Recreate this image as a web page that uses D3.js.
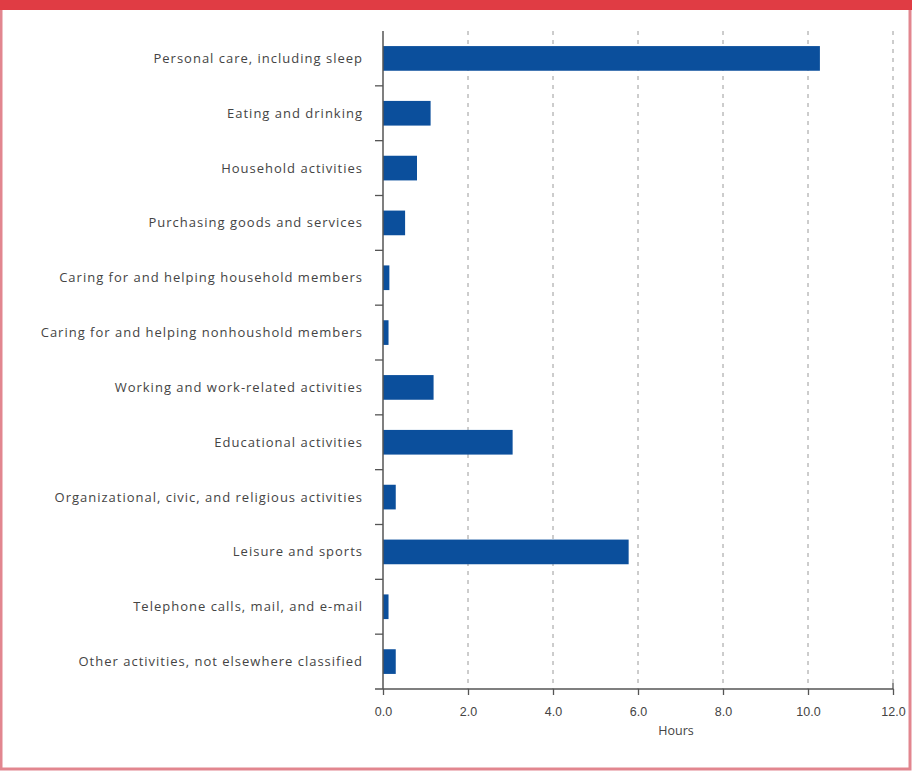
<!DOCTYPE html>
<html>
<head>
<meta charset="utf-8">
<script src="https://cdn.jsdelivr.net/npm/d3@7"></script>
<style>
  body { margin: 0; background: #fff; }
  svg { display: block; font-family: "Open Sans", sans-serif; }
</style>
</head>
<body>
<div class="canva"></div>
<script>
// categories, top to bottom
const categories = [
  "Personal care, including sleep",
  "Eating and drinking",
  "Household activities",
  "Purchasing goods and services",
  "Caring for and helping household members",
  "Caring for and helping nonhoushold members",
  "Working and work-related activities",
  "Educational activities",
  "Organizational, civic, and religious activities",
  "Leisure and sports",
  "Telephone calls, mail, and e-mail",
  "Other activities, not elsewhere classified"
];

// average hours per day
const hours = [10.28, 1.12, 0.8, 0.52, 0.15, 0.13, 1.19, 3.05, 0.3, 5.78, 0.13, 0.3];

const xTicks = [0, 2, 4, 6, 8, 10, 12];

const width = 912, height = 771;
const margin = {top: 31, right: 19, bottom: 82, left: 383};

const svg = d3.select(".canva").append("svg")
    .attr("width", width)
    .attr("height", height);

// frame: red header band + thin border
svg.append("rect")
    .attr("x", 1).attr("y", 1)
    .attr("width", width - 3).attr("height", height - 3)
    .attr("fill", "none")
    .attr("stroke", "#e2868f")
    .attr("stroke-width", 3);
svg.append("rect")
    .attr("x", 0).attr("y", 0)
    .attr("width", width).attr("height", 10)
    .attr("fill", "#e03c44");

const x = d3.scaleLinear()
    .domain([0, 12])
    .range([margin.left, width - margin.right]);

const y = d3.scaleBand()
    .domain(categories)
    .range([margin.top, height - margin.bottom])
    .paddingInner(0.55)
    .paddingOuter(0.275);

const y0 = margin.top, y1 = height - margin.bottom;

// dashed grid lines
svg.append("g")
    .selectAll("line")
    .data(xTicks.slice(1))
    .join("line")
    .attr("x1", d => x(d)).attr("x2", d => x(d))
    .attr("y1", y0).attr("y2", y1)
    .attr("stroke", "#9a9a9a")
    .attr("stroke-width", 1)
    .attr("stroke-dasharray", "4,5");

// bars
svg.append("g")
    .selectAll("rect")
    .data(hours)
    .join("rect")
    .attr("x", x(0))
    .attr("y", (d, i) => y(categories[i]))
    .attr("width", d => x(d) - x(0))
    .attr("height", y.bandwidth())
    .attr("fill", "#0b4f9c");

// x axis
const xAxis = svg.append("g")
    .attr("transform", `translate(0,${y1})`)
    .call(d3.axisBottom(x).tickValues(xTicks).tickFormat(d3.format(".1f")).tickSize(6).tickSizeOuter(0).tickPadding(12));
xAxis.select(".domain").attr("stroke", "#555").attr("stroke-width", 1.5)
    .attr("d", `M${x(0) - 8},0H${x(12)}`);
xAxis.selectAll(".tick line").attr("stroke", "#555").attr("stroke-width", 1.3);
xAxis.selectAll(".tick text")
    .attr("fill", "#444")
    .style("font-size", "12.5px");
xAxis.append("line")
    .attr("x1", x(12)).attr("x2", x(12))
    .attr("y1", -6).attr("y2", 0)
    .attr("stroke", "#555").attr("stroke-width", 1.3);

svg.append("text")
    .attr("x", 676)
    .attr("y", 735)
    .attr("text-anchor", "middle")
    .attr("fill", "#444")
    .style("font-size", "12.5px")
    .text("Hours");

// y axis line and ticks between categories
const step = y.step();
const yAxis = svg.append("g");
yAxis.append("line")
    .attr("x1", x(0)).attr("x2", x(0))
    .attr("y1", y0).attr("y2", y1)
    .attr("stroke", "#555").attr("stroke-width", 1.5);
yAxis.selectAll(".sep")
    .data(categories.slice(1))
    .join("line")
    .attr("class", "sep")
    .attr("x1", x(0) - 8).attr("x2", x(0))
    .attr("y1", d => y(d) - (step - y.bandwidth()) / 2)
    .attr("y2", d => y(d) - (step - y.bandwidth()) / 2)
    .attr("stroke", "#555").attr("stroke-width", 1.3);

// category labels
yAxis.selectAll(".lbl")
    .data(categories)
    .join("text")
    .attr("class", "lbl")
    .attr("x", 363)
    .attr("y", d => y(d) + y.bandwidth() / 2)
    .attr("dy", "0.35em")
    .attr("text-anchor", "end")
    .attr("fill", "#444")
    .style("font-size", "13px")
    .style("letter-spacing", "1px")
    .text(d => d);
</script>
</body>
</html>
